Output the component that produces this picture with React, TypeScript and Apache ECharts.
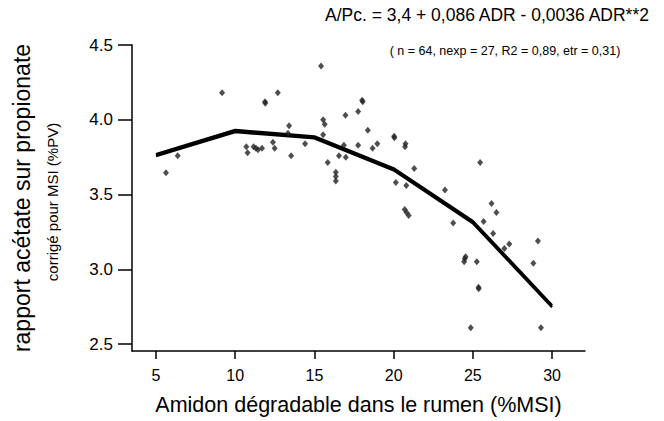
import React, { useEffect, useRef } from "react";
import * as echarts from "echarts";

const xTicks = [5, 10, 15, 20, 25, 30];
const yTicks = [2.5, 3.0, 3.5, 4.0, 4.5];

const fitX = [5, 10, 15, 20, 25, 30];
const fitUpper = [3.77, 3.932, 3.889, 3.675, 3.323, 2.76];
const fitLower = [3.758, 3.918, 3.876, 3.662, 3.309, 2.748];

const obsX = [
  5.63, 6.37, 9.17, 10.7, 10.78, 11.16, 11.31, 11.44, 11.69, 11.88, 11.9, 12.69,
  12.38, 12.49, 13.4, 13.33, 13.53, 14.41, 15.42, 15.55, 15.65, 15.55, 15.84,
  16.35, 16.35, 16.35, 16.55, 16.86, 16.96, 16.98, 17.76, 18.01, 18.05, 17.76,
  18.37, 18.67, 18.97, 20.03, 20.05, 20.14, 20.75, 20.72, 21.3, 20.8, 20.7,
  20.82, 20.95, 23.24, 23.76, 25.46, 25.68, 26.18, 26.49, 26.28, 27.3, 26.99,
  29.11, 28.82, 24.54, 24.49, 24.45, 25.25, 25.36, 25.37, 24.87, 29.3,
];
const obsY = [
  3.645, 3.76, 4.18, 3.82, 3.78, 3.82, 3.81, 3.8, 3.81, 4.12, 4.11, 4.18, 3.85,
  3.81, 3.96, 3.91, 3.76, 3.84, 4.36, 4.0, 3.97, 3.9, 3.715, 3.65, 3.62, 3.59,
  3.76, 3.83, 4.03, 3.75, 4.055, 4.13, 4.12, 3.83, 3.93, 3.81, 3.84, 3.89, 3.88,
  3.58, 3.84, 3.82, 3.675, 3.56, 3.4, 3.38, 3.36, 3.53, 3.31, 3.715, 3.32, 3.44,
  3.38, 3.24, 3.17, 3.14, 3.19, 3.04, 3.085, 3.07, 3.05, 3.05, 2.88, 2.87, 2.61,
  2.61,
];

const titleText = "A/Pc. = 3,4 + 0,086 ADR - 0,0036 ADR**2";
const subtitleText = "( n = 64, nexp = 27, R2 = 0,89, etr = 0,31)";
const xName = "Amidon dégradable dans le rumen (%MSI)";
const yName1 = "rapport acétate sur propionate";
const yName2 = "corrigé pour MSI (%PV)";

const FONT = "'Liberation Sans', Arial, sans-serif";

export default function App() {
  const ref = useRef<HTMLDivElement>(null);
  useEffect(() => {
    if (!ref.current) return;
    const chart = echarts.init(ref.current, null, { renderer: "svg" });
    chart.setOption({
      animation: false,
      backgroundColor: "#fff",
      grid: { left: 132, right: 79, top: 45, bottom: 65 },
      xAxis: {
        type: "value",
        min: 3.485,
        max: 32.08,
        splitLine: { show: false },
        axisLine: { show: true, onZero: false, lineStyle: { color: "#000", width: 1.5 } },
        axisTick: { show: true, length: 8, customValues: xTicks, lineStyle: { color: "#000", width: 1.5 } },
        axisLabel: {
          customValues: xTicks,
          color: "#000",
          fontSize: 16,
          fontFamily: FONT,
          margin: 16,
          showMinLabel: true,
          showMaxLabel: true,
        },
        name: xName,
        nameLocation: "middle",
        nameGap: 43,
        nameTextStyle: { color: "#000", fontSize: 21.5, fontFamily: FONT },
      },
      yAxis: {
        type: "value",
        min: 2.454,
        max: 4.5,
        splitLine: { show: false },
        axisLine: { show: true, onZero: false, lineStyle: { color: "#000", width: 1.5 } },
        axisTick: { show: true, length: 14, customValues: yTicks, lineStyle: { color: "#000", width: 1.5 } },
        axisLabel: {
          customValues: yTicks,
          color: "#000",
          fontSize: 17,
          fontFamily: FONT,
          margin: 19,
          formatter: (v: number) => v.toFixed(1),
        },
      },
      series: [
        {
          type: "line",
          data: fitX.map((x, i) => [x, fitUpper[i]]),
          symbol: "none",
          lineStyle: { color: "#000", width: 2.5 },
          z: 2,
        },
        {
          type: "line",
          data: fitX.map((x, i) => [x, fitLower[i]]),
          symbol: "none",
          lineStyle: { color: "#000", width: 2.5 },
          z: 2,
        },
        {
          type: "scatter",
          data: obsX.map((x, i) => [x, obsY[i]]),
          symbol: "diamond",
          symbolSize: [6, 7],
          itemStyle: { color: "#222" },
          z: 3,
        },
      ],
      graphic: [
        {
          type: "text",
          x: 487,
          y: 15,
          style: {
            text: titleText,
            fill: "#000",
            font: `17.5px ${FONT}`,
            textAlign: "center",
            textVerticalAlign: "middle",
          },
        },
        {
          type: "text",
          x: 505,
          y: 51,
          style: {
            text: subtitleText,
            fill: "#000",
            font: `12.5px ${FONT}`,
            textAlign: "center",
            textVerticalAlign: "middle",
          },
        },
        {
          type: "text",
          x: 22,
          y: 198,
          rotation: Math.PI / 2,
          style: {
            text: yName1,
            fill: "#000",
            font: `23px ${FONT}`,
            textAlign: "center",
            textVerticalAlign: "middle",
          },
        },
        {
          type: "text",
          x: 52,
          y: 202,
          rotation: Math.PI / 2,
          style: {
            text: yName2,
            fill: "#000",
            font: `15px ${FONT}`,
            textAlign: "center",
            textVerticalAlign: "middle",
          },
        },
      ],
    });
    return () => chart.dispose();
  }, []);
  return (
    <div
      ref={ref}
      style={{ position: "absolute", left: 0, top: 0, width: 664, height: 421 }}
    />
  );
}
